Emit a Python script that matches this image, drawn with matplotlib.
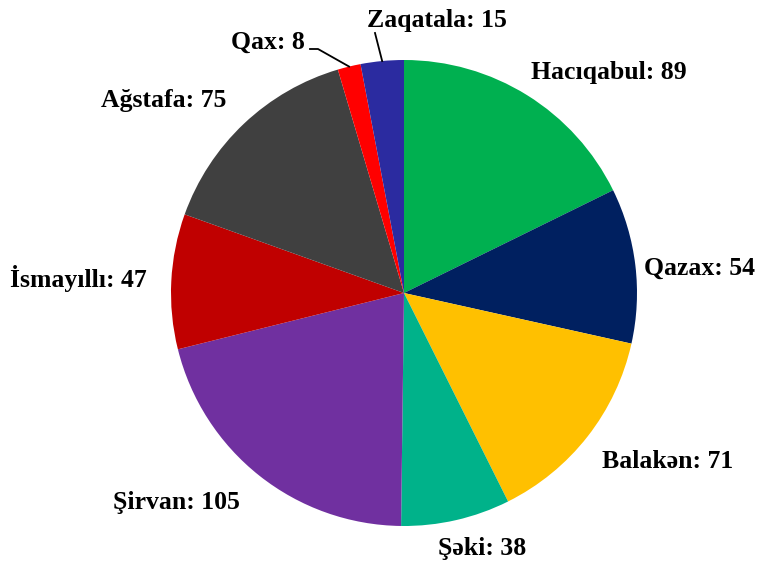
import numpy as np
import matplotlib.pyplot as plt

regions = ['Hacıqabul', 'Qazax', 'Balakən', 'Şəki', 'Şirvan', 'İsmayıllı', 'Ağstafa', 'Qax', 'Zaqatala']
values = [89, 54, 71, 38, 105, 47, 75, 8, 15]
colors = ['#00B050', '#002060', '#FFC000', '#00B28A', '#7030A0', '#C00000', '#404040', '#FF0000', '#2B2BA0']

label_px = [(609, 72), (700, 268), (668, 462), (482, 548), (176, 502),
            (78, 279), (164, 100), (268, 42), (437, 20)]

W, H = 769, 565
cx, cy, R = 404, 293, 233


def px2data(px, py):
    return (px - cx) / R, (cy - py) / R


fig = plt.figure(figsize=(W / 100, H / 100), dpi=100)
ax = fig.add_axes([0, 0, 1, 1])
wedges, _ = ax.pie(values, colors=colors, startangle=90, counterclock=False,
                   radius=1, center=(0, 0), frame=True)
ax.set_xlim(px2data(0, 0)[0], px2data(W, 0)[0])
ax.set_ylim(px2data(0, H)[1], px2data(0, 0)[1])
ax.set_aspect('auto')
ax.axis('off')

font = dict(family='Liberation Serif', fontweight='bold', fontsize=18.5, color='black')
for name, v, (px, py) in zip(regions, values, label_px):
    x, y = px2data(px, py)
    ax.text(x, y, f'{name}: {v}', ha='center', va='center', **font)

# leader lines for the two small slices
for i, pts in [(7, [(310, 49), (318, 49)]), (8, [(375, 33)])]:
    w = wedges[i]
    mid = np.deg2rad((w.theta1 + w.theta2) / 2)
    xs = [px2data(*p)[0] for p in pts] + [np.cos(mid)]
    ys = [px2data(*p)[1] for p in pts] + [np.sin(mid)]
    ax.plot(xs, ys, color='black', lw=1.3)

plt.savefig('out.png', dpi=100)
